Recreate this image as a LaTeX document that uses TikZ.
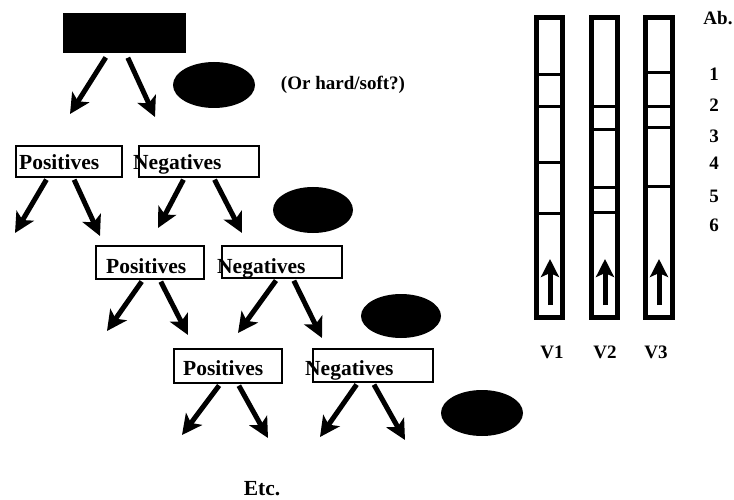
\documentclass[tikz,border=0pt]{standalone}
\usepackage{fontspec}
\setmainfont{Liberation Serif}
\usetikzlibrary{arrows.meta,calc}
\begin{document}
\begin{tikzpicture}[x=1pt,y=-1pt,
  arr/.style={line width=5pt,-{Stealth[length=20pt,width=20pt,inset=5pt]}},
  uparr/.style={line width=5pt,-{Stealth[length=18pt,width=18pt,inset=4pt]}},
  box/.style={draw,line width=1.8pt,inner sep=0pt},
  lab/.style={inner sep=0pt,font=\bfseries\fontsize{21.5}{21.5}\selectfont},
  small/.style={inner sep=0pt,font=\bfseries\fontsize{19}{19}\selectfont},
  strip/.style={draw,line width=5pt},
  band/.style={line width=3pt}]
\useasboundingbox[fill=white] (0,0) rectangle (734,500);
% top black box
\node[fill=black,minimum width=123pt,minimum height=40pt,inner sep=0pt] (top) at (124.5,33) {};
\coordinate (t1) at (70,114);
\coordinate (t2) at (155,117);
\draw[arr,shorten <=5pt] ($(top.south west)!0.37!(top.south east)$) -- (t1);
\draw[arr,shorten <=5pt] ($(top.south west)!0.51!(top.south east)$) -- (t2);
\fill (214,85) ellipse [x radius=41, y radius=23];
\node[small,anchor=base] (q) at (343,90) {(Or hard/soft?)};
% level 1
\node[box,minimum width=106pt,minimum height=31pt] (p1) at (69,161.5) {};
\node[lab,anchor=base west] (p1t) at (19,170) {Positives};
\node[box,minimum width=120pt,minimum height=31pt] (n1) at (199,161.5) {};
\node[lab,anchor=base west] (n1t) at (133,170) {Negatives};
\coordinate (a1) at (15,233);
\coordinate (a2) at (100,236);
\coordinate (a3) at (158,228);
\coordinate (a4) at (242,233);
\draw[arr,shorten <=2pt] ($(p1.south west)!0.30!(p1.south east)$) -- (a1);
\draw[arr,shorten <=2pt] ($(p1.south west)!0.54!(p1.south east)$) -- (a2);
\draw[arr,shorten <=2pt] ($(n1.south west)!0.38!(n1.south east)$) -- (a3);
\draw[arr,shorten <=2pt] ($(n1.south west)!0.62!(n1.south east)$) -- (a4);
\fill (313,210) ellipse [x radius=40, y radius=23];
% level 2
\node[box,minimum width=108pt,minimum height=33pt] (p2) at (150,262.5) {};
\node[lab,anchor=base west] (p2t) at (106,273) {Positives};
\node[box,minimum width=120pt,minimum height=32pt] (n2) at (282,262) {};
\node[lab,anchor=base west] (n2t) at (217,273) {Negatives};
\coordinate (b1) at (107,331);
\coordinate (b2) at (188,335);
\coordinate (b3) at (238,333);
\coordinate (b4) at (322,338);
\draw[arr,shorten <=2pt] ($(p2.south west)!0.435!(p2.south east)$) -- (b1);
\draw[arr,shorten <=2pt] ($(p2.south west)!0.59!(p2.south east)$) -- (b2);
\draw[arr,shorten <=2pt] ($(n2.south west)!0.46!(n2.south east)$) -- (b3);
\draw[arr,shorten <=2pt] ($(n2.south west)!0.59!(n2.south east)$) -- (b4);
\fill (401,316) ellipse [x radius=40, y radius=22];
% level 3
\node[box,minimum width=108pt,minimum height=34pt] (p3) at (228,366) {};
\node[lab,anchor=base west] (p3t) at (183,375) {Positives};
\node[box,minimum width=120pt,minimum height=33pt] (n3) at (373,365.5) {};
\node[lab,anchor=base west] (n3t) at (305,375) {Negatives};
\coordinate (c1) at (182,435);
\coordinate (c2) at (268,438);
\coordinate (c3) at (320,437);
\coordinate (c4) at (405,440);
\draw[arr,shorten <=2pt] ($(p3.south west)!0.43!(p3.south east)$) -- (c1);
\draw[arr,shorten <=2pt] ($(p3.south west)!0.59!(p3.south east)$) -- (c2);
\draw[arr,shorten <=2pt] ($(n3.south west)!0.375!(n3.south east)$) -- (c3);
\draw[arr,shorten <=2pt] ($(n3.south west)!0.5!(n3.south east)$) -- (c4);
\fill (482,413) ellipse [x radius=41, y radius=23];
\node[lab,anchor=base] (etc) at (262,495) {Etc.};
% strips
\draw[strip] (536.5,17.5) rectangle (562.5,317.5);
\draw[strip] (591.5,17.5) rectangle (617.5,317.5);
\draw[strip] (645.5,17.5) rectangle (672.5,317.5);
\foreach \y in {75,107,163,213} \draw[band] (536,\y) -- (563,\y);
\foreach \y in {107,130,188,212} \draw[band] (591,\y) -- (618,\y);
\foreach \y in {73,107,128,187} \draw[band] (645,\y) -- (673,\y);
\coordinate (s1) at (550,305); \coordinate (e1) at (550,259);
\coordinate (s2) at (605,305); \coordinate (e2) at (605,259);
\coordinate (s3) at (659,305); \coordinate (e3) at (659,259);
\draw[uparr] (s1) -- (e1);
\draw[uparr] (s2) -- (e2);
\draw[uparr] (s3) -- (e3);
\node[small,anchor=base] (v1) at (552,358) {V1};
\node[small,anchor=base] (v2) at (605,358) {V2};
\node[small,anchor=base] (v3) at (656,358) {V3};
\node[small,anchor=base] (ab) at (718,25) {Ab.};
\foreach \n/\y in {1/81,2/112,3/143,4/170,5/202,6/231}
  \node[small,anchor=base] (num\n) at (714,\y) {\n};
\end{tikzpicture}
\end{document}
